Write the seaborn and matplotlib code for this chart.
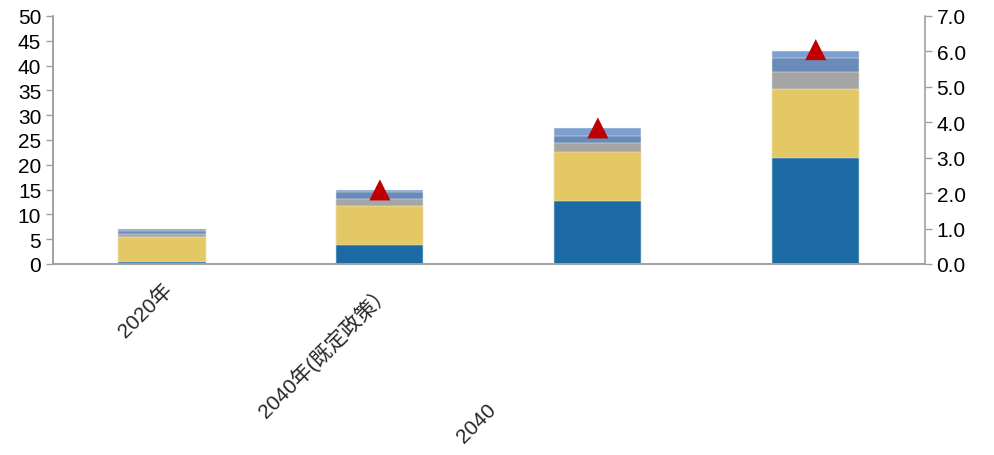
import numpy as np
import pandas as pd
import matplotlib
matplotlib.use('Agg')
import matplotlib.pyplot as plt
import matplotlib.transforms as mtransforms
import seaborn as sns

sns.set_style('white')
plt.rcParams['font.family'] = ['Liberation Sans', 'Noto Sans CJK SC']

# Data
categories = ['2020年', '2040年(既定政策）', '2040', '']
seg_blue = [0.45, 3.9, 12.64, 21.43]
seg_yellow = [4.99, 7.73, 9.88, 13.85]
seg_gray = [0.61, 1.47, 1.81, 3.49]
seg_steel = [0.6, 1.42, 1.54, 2.76]
seg_light = [0.41, 0.48, 1.49, 1.47]
triangle = [np.nan, 2.09, 3.84, 6.05]

colors = ['#1b6aa5', '#e4c866', '#a5a5a5', '#6a8bb9', '#7d9ed0']
segments = [seg_blue, seg_yellow, seg_gray, seg_steel, seg_light]

fig = plt.figure(figsize=(9.94, 4.56), dpi=100)
ax = fig.add_axes([0.0533, 0.419, 0.877, 0.5438])

cum = np.cumsum(np.array(segments), axis=0)
# draw from top to bottom so lower segments overlay
for i in range(len(segments) - 1, -1, -1):
    df = pd.DataFrame({'cat': list(range(4)), 'val': cum[i]})
    sns.barplot(data=df, x='cat', y='val', color=colors[i], width=0.4,
                saturation=1, edgecolor='#f3efe0', linewidth=0.35, ax=ax)

ax.set_xlim(-0.5, 3.5)
ax.set_ylim(0, 50)
ax.set_yticks(range(0, 51, 5))
ax.set_xlabel('')
ax.set_ylabel('')

ax2 = ax.twinx()
sns.scatterplot(x=list(range(4)), y=triangle, marker='^', s=230, color='#c00000',
                edgecolor='none', ax=ax2, zorder=5)
ax2.set_ylim(0, 7)
ax2.set_yticks(np.arange(0, 7.1, 1.0))
ax2.set_yticklabels([f'{v:.1f}' for v in np.arange(0, 7.1, 1.0)])

spine_c = '#a0a0a0'
for a in (ax, ax2):
    for s in a.spines.values():
        s.set_color(spine_c)
        s.set_linewidth(1.2)
    a.spines['top'].set_visible(False)
    a.tick_params(axis='y', length=5, width=1, color=spine_c, labelsize=15,
                  labelcolor='black', direction='out')
ax.spines['right'].set_visible(False)
ax.tick_params(axis='x', length=0, labelsize=15, pad=11)
ax.set_xticks(range(4))
ax.set_xticklabels([categories[0], categories[1], '', ''], rotation=45,
                   ha='right', rotation_mode='anchor')

trans = mtransforms.blended_transform_factory(ax.transData, ax.transAxes)
ax.text(1.49, -0.545, categories[2], transform=trans, rotation=45, ha='right',
        va='top', rotation_mode='anchor', fontsize=15)

fig.savefig('out.png', dpi=100)
